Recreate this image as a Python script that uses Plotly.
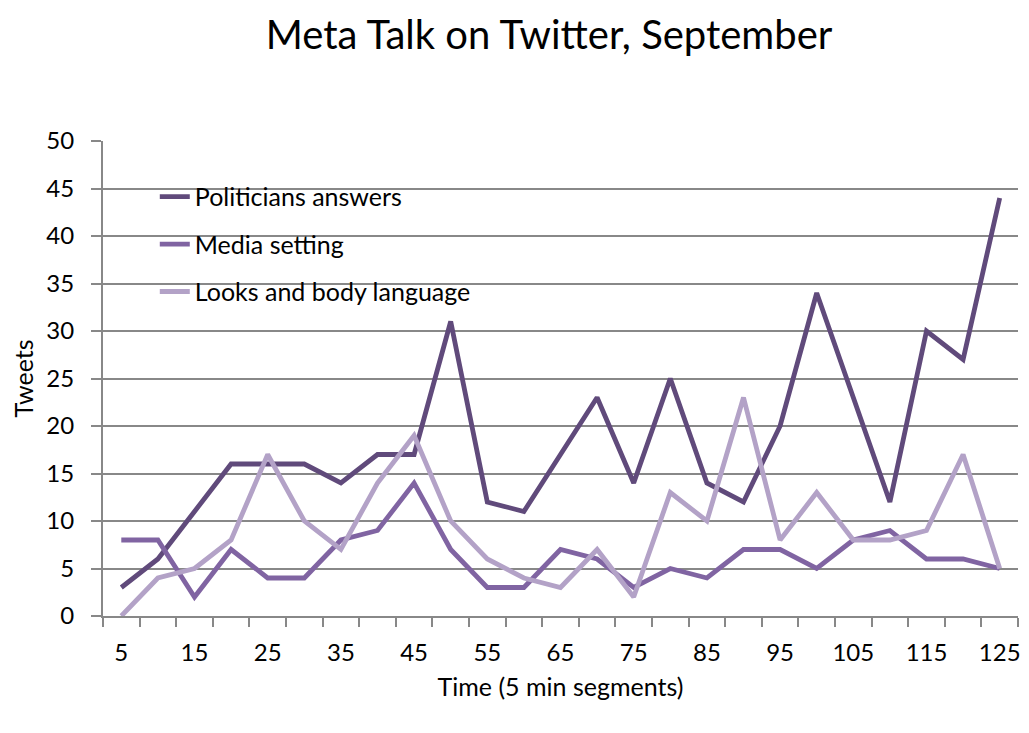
import plotly.graph_objects as go

time_segments = list(range(5, 130, 5))
politicians = [3, 6, 11, 16, 16, 16, 14, 17, 17, 31, 12, 11, 17, 23, 14, 25, 14, 12, 20, 34, 23, 12, 30, 27, 44]
media = [8, 8, 2, 7, 4, 4, 8, 9, 14, 7, 3, 3, 7, 6, 3, 5, 4, 7, 7, 5, 8, 9, 6, 6, 5]
looks = [0, 4, 5, 8, 17, 10, 7, 14, 19, 10, 6, 4, 3, 7, 2, 13, 10, 23, 8, 13, 8, 8, 9, 17, 5]
series_names = ["Politicians answers", "Media setting", "Looks and body language"]
series_colors = ["#604A7B", "#8064A2", "#B3A2C7"]
x_tick_labels = list(range(5, 130, 10))
y_ticks = list(range(0, 55, 5))

FONT = "Lato, 'Open Sans', sans-serif"
GRID = "#888888"

fig = go.Figure()
for name, vals, col in zip(series_names, [politicians, media, looks], series_colors):
    fig.add_trace(go.Scatter(
        x=time_segments, y=vals, name=name, mode="lines",
        line=dict(color=col, width=4.8), legendgroup=name,
    ))

# page body has an 8px margin, so figure is sized 1021x725
fig.update_layout(
    width=1021, height=725,
    paper_bgcolor="white", plot_bgcolor="white",
    margin=dict(l=95, r=8, t=133, b=117),
    font=dict(family=FONT, color="black", size=25),
    title=dict(text="Meta Talk on Twitter, September", x=541/1021, xanchor="center",
               y=1 - 27/725, yanchor="middle", font=dict(size=40, family=FONT)),
    showlegend=True,
    legend=dict(x=0.0566, y=0.931, xanchor="left", yanchor="top", bgcolor="rgba(0,0,0,0)",
                font=dict(size=25, family=FONT), tracegroupgap=12, itemwidth=30),
    xaxis=dict(
        range=[2.5, 127.5], tickmode="array", tickvals=x_tick_labels,
        ticktext=[str(v) for v in x_tick_labels], ticks="", showgrid=False,
        showline=True, linecolor=GRID, linewidth=2, zeroline=False,
        tickfont=dict(size=24), ticklabelstandoff=14,
        minor=dict(tickmode="linear", tick0=2.5, dtick=5, ticks="outside", ticklen=9,
                   tickwidth=2, tickcolor=GRID, showgrid=False),
        title=dict(text="Time (5 min segments)", font=dict(size=25), standoff=14),
    ),
    yaxis=dict(
        range=[0, 50], tickmode="array", tickvals=y_ticks, showgrid=True,
        gridcolor=GRID, gridwidth=2, ticks="outside", ticklen=10, tickwidth=2,
        tickcolor=GRID, showline=True, linecolor=GRID, linewidth=2, zeroline=False,
        tickfont=dict(size=24), ticklabelstandoff=12,
        title=dict(text="Tweets", font=dict(size=25), standoff=12),
    ),
)

fig.write_html("out.html")
